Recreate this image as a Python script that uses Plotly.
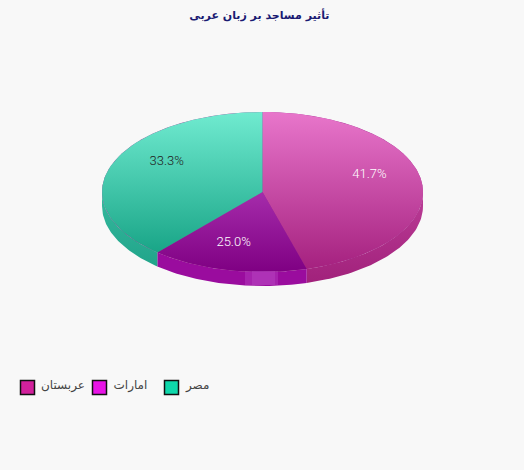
import numpy as np
import plotly.graph_objects as go

#chart data
countries = ["عربستان", "امارات", "مصر"]
shares = [41.7, 25.0, 33.3]
legend_colors = ["#d2219c", "#e814e6", "#0fd8ab"]
top_colors = [("#e876cb", "#a5217f"), ("#a52cab", "#7f0083"), ("#70ebd0", "#19a587")]
wall_colors = [("#bb3d97", "#a0207a"), ("#9a0c9e", "#9a0c9e"), ("#36b99e", "#1b9f85")]
label_colors = ["#ffffff", "#ffffff", "#222222"]

#pie geometry, in page pixels
cx, cy = 262.5, 192
rx, ry = 160.5, 80
depth = 14


#slice angles are true screen angles, so go from them to the ellipse parameter
def ellipse_param(deg):
    t = np.radians(deg)
    p = np.arctan2(np.sin(t) / rx, np.cos(t) / ry)
    return p + 2 * np.pi if p < -1e-9 else p


def arc(a, b):
    p = np.linspace(ellipse_param(a), ellipse_param(b) if b < 360 else 2 * np.pi, 60)
    return cx + rx * np.sin(p), cy - ry * np.cos(p)


edges = np.cumsum([0] + shares) / sum(shares) * 360

fig = go.Figure()

#side wall first, only the front half of the rim shows
for i in range(len(shares)):
    a, b = max(edges[i], 90), min(edges[i + 1], 270)
    x, y = arc(a, b)
    fig.add_trace(go.Scatter(x=np.r_[x, x[::-1]], y=np.r_[y, y[::-1] + depth],
                             mode="lines", line=dict(width=0), fill="toself",
                             fillgradient=dict(type="vertical", start=cy, stop=cy + ry + depth,
                                               colorscale=[[0, wall_colors[i][0]], [1, wall_colors[i][1]]]),
                             hoverinfo="skip", showlegend=False))

#backing under the top faces so the seams between slices dont show the page colour
x, y = arc(0, 360)
fig.add_trace(go.Scatter(x=x, y=y, mode="lines", line=dict(width=0), fill="toself",
                         fillcolor="#a02a90", hoverinfo="skip", showlegend=False))

#top faces
for i in range(len(shares)):
    x, y = arc(edges[i], edges[i + 1])
    fig.add_trace(go.Scatter(x=np.r_[cx, x, cx], y=np.r_[cy, y, cy],
                             mode="lines", line=dict(width=0), fill="toself",
                             fillgradient=dict(type="vertical", start=y.min() if i != 1 else cy,
                                               stop=max(y.max(), cy),
                                               colorscale=[[0, top_colors[i][0]], [1, top_colors[i][1]]]),
                             hoverinfo="skip", showlegend=False))

#percent labels
for i in range(len(shares)):
    mid = np.radians((edges[i] + edges[i + 1]) / 2)
    fig.add_trace(go.Scatter(x=[cx + 0.69 * rx * np.sin(mid)], y=[cy - 0.69 * ry * np.cos(mid) - 3],
                             mode="text", text=["%.1f%%" % shares[i]],
                             textfont=dict(family="Roboto", size=13, weight=300, color=label_colors[i]),
                             hoverinfo="skip", showlegend=False))

#legend row drawn by hand, plotly's own legend leaves too wide a gap after the swatch
for i, name in enumerate(countries):
    fig.add_trace(go.Scatter(x=[27.5 + 72 * i], y=[387.5], mode="markers", name=name,
                             marker=dict(symbol="square", size=14, color=legend_colors[i],
                                         line=dict(color="#111111", width=1.5)),
                             hoverinfo="name", showlegend=False))
    fig.add_trace(go.Scatter(x=[41 + 72.5 * i], y=[386], mode="text", text=[name],
                             textposition="middle right",
                             textfont=dict(family="DejaVu Sans, sans-serif", size=12, color="#444444"),
                             hoverinfo="skip", showlegend=False))

#the pale patch on the front of the rim
fig.add_shape(type="rect", x0=245, x1=278, y0=271, y1=285, line_width=0,
              fillcolor="rgba(190,80,200,0.35)")
fig.add_shape(type="rect", x0=252, x1=275, y0=271, y1=285, line_width=0,
              fillcolor="rgba(190,80,200,0.35)")

fig.update_layout(
    width=524, height=470,
    margin=dict(l=0, r=0, t=0, b=0),
    paper_bgcolor="#f8f8f8", plot_bgcolor="#f8f8f8",
    font=dict(family="DejaVu Sans, sans-serif", size=12, color="#333333"),
    xaxis=dict(range=[0, 524], visible=False, fixedrange=True),
    yaxis=dict(range=[470, 0], visible=False, fixedrange=True),
    title=dict(text="<b>تأثیر مساجد بر زبان عربی</b>", x=0.495, xanchor="center", y=0.968, yanchor="middle",
               font=dict(family="DejaVu Sans, sans-serif", size=11, color="#1a1a72")),
)

#page has a default 8px body margin, the chart fills the window
fig.write_html("out.html", config=dict(displayModeBar=False),
               post_script="document.body.style.margin = '0';")
